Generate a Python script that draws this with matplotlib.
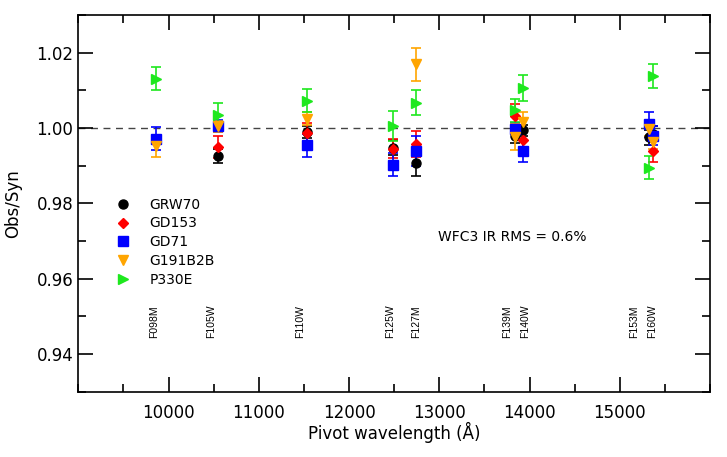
import numpy as np
import matplotlib.pyplot as plt
from matplotlib.lines import Line2D
from matplotlib.ticker import MultipleLocator

plt.rcParams['font.family'] = ['DejaVu Sans']

# WFC3 IR filters and pivot wavelengths (Angstrom)
filters = ['F098M', 'F105W', 'F110W', 'F125W', 'F127M', 'F139M', 'F140W', 'F153M', 'F160W']
pivot = [9864, 10552, 11534, 12486, 12740, 13838, 13923, 15322, 15369]
label_x = [9841, 10473, 11463, 12451, 12748, 13756, 13955, 15160, 15357]

nan = np.nan
stars = ['GRW70', 'GD153', 'GD71', 'G191B2B', 'P330E']
ratio = {
    'GRW70':   [nan, 0.9925, 0.9989, 0.9948, 0.9906, 0.9980, 0.9994, 0.9975, 0.9985],
    'GD153':   [nan, 0.9950, 0.9987, 0.9945, 0.9957, 1.0033, 0.9967, nan, 0.9939],
    'GD71':    [0.9972, 1.0005, 0.9954, 0.9903, 0.9938, 0.9998, 0.9939, 1.0010, 0.9980],
    'G191B2B': [0.9952, 1.0004, 1.0025, nan, 1.0169, 0.9976, 1.0016, 0.9998, 0.9963],
    'P330E':   [1.0131, 1.0034, 1.0073, 1.0005, 1.0067, 1.0047, 1.0106, 0.9895, 1.0137],
}
error = {
    'GRW70':   [nan, 0.0018, 0.0015, 0.0020, 0.0034, 0.0020, 0.0015, 0.0020, 0.0020],
    'GD153':   [nan, 0.0030, 0.0025, 0.0025, 0.0034, 0.0030, 0.0030, nan, 0.0030],
    'GD71':    [0.0030, 0.0015, 0.0030, 0.0030, 0.0040, 0.0015, 0.0030, 0.0033, 0.0025],
    'G191B2B': [0.0030, 0.0015, 0.0018, nan, 0.0043, 0.0035, 0.0027, 0.0020, 0.0020],
    'P330E':   [0.0030, 0.0033, 0.0030, 0.0040, 0.0033, 0.0030, 0.0035, 0.0031, 0.0032],
}

styles = {
    'GRW70':   ('o', 'black'),
    'GD153':   ('D', '#ff0000'),
    'GD71':    ('s', '#0000ff'),
    'G191B2B': ('v', '#ffa500'),
    'P330E':   ('>', '#1ee81e'),
}
msize = {'o': 6.5, 'D': 5, 's': 6.5, 'v': 7, '>': 7}

fig = plt.figure(figsize=(7.27, 4.57), dpi=100)
ax = fig.add_axes([0.1077, 0.1429, 0.8689, 0.8243])

ax.axhline(1.0, color='#444444', lw=1, ls=(0, (5, 4)), zorder=1)

for s in stars:
    m, c = styles[s]
    ax.errorbar(pivot, ratio[s], yerr=error[s], fmt=m, color=c, ms=msize[m],
                mec=c, ecolor=c, elinewidth=1.2, capsize=3.5, capthick=1.2, zorder=3)

for f, lx in zip(filters, label_x):
    ax.text(lx, 0.9443, f, rotation=90, ha='center', va='bottom', fontsize=7.5,
            family='Liberation Sans')

ax.text(12983, 0.971, 'WFC3 IR RMS = 0.6%', fontsize=10, va='center')

handles = [Line2D([], [], ls='none', marker=styles[s][0], color=styles[s][1],
                  ms=msize[styles[s][0]]) for s in stars]
ax.legend(handles, stars, loc='upper left', bbox_to_anchor=(0.051, 0.53),
          frameon=False, fontsize=10, handletextpad=1.4, labelspacing=0.35,
          handlelength=1.0, borderaxespad=0)

ax.set_xlim(9000, 16000)
ax.set_ylim(0.93, 1.03)
ax.set_xticks([10000, 11000, 12000, 13000, 14000, 15000])
ax.xaxis.set_minor_locator(MultipleLocator(500))
ax.set_yticks([0.94, 0.96, 0.98, 1.00, 1.02])
ax.yaxis.set_minor_locator(MultipleLocator(0.01))
ax.tick_params(which='both', direction='in', top=True, right=True, labelsize=12)
ax.tick_params(which='major', length=11, width=1.2)
ax.tick_params(which='minor', length=6, width=1.2)
ax.tick_params(axis='x', pad=9)
for sp in ax.spines.values():
    sp.set_linewidth(1.2)

ax.set_xlabel('Pivot wavelength (Å)', fontsize=12, labelpad=0)
ax.set_ylabel('Obs/Syn', fontsize=12, labelpad=10)

fig.savefig('out.png', dpi=100)
